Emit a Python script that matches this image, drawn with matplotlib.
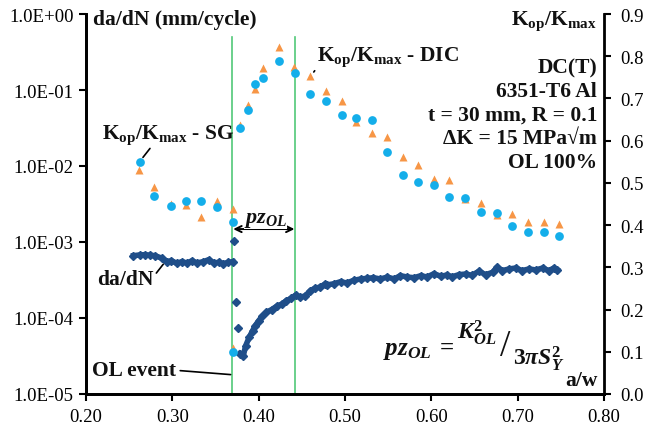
import matplotlib
matplotlib.use("Agg")
import matplotlib.pyplot as plt
from matplotlib.ticker import FixedLocator, FuncFormatter

plt.rcParams['font.family'] = ['Liberation Serif', 'DejaVu Serif']
plt.rcParams['mathtext.fontset'] = 'custom'
plt.rcParams['mathtext.rm'] = 'Liberation Serif'
plt.rcParams['mathtext.bf'] = 'Liberation Serif:bold'
plt.rcParams['mathtext.it'] = 'Liberation Serif:italic'
plt.rcParams['mathtext.bfit'] = 'Liberation Serif:italic:bold'

# ---------------- data ----------------
# Kop/Kmax from strain gauge (SG)
aw_sg = [0.262, 0.279, 0.298, 0.316, 0.333, 0.352, 0.370, 0.370, 0.378, 0.388,
         0.396, 0.405, 0.424, 0.442, 0.460, 0.478, 0.496, 0.513, 0.531, 0.549,
         0.567, 0.585, 0.603, 0.621, 0.639, 0.658, 0.676, 0.693, 0.712, 0.730, 0.748]
kop_sg = [0.550, 0.470, 0.445, 0.457, 0.456, 0.442, 0.407, 0.100, 0.629, 0.673,
          0.735, 0.748, 0.788, 0.760, 0.711, 0.695, 0.661, 0.654, 0.650, 0.574,
          0.519, 0.503, 0.496, 0.467, 0.464, 0.430, 0.429, 0.397, 0.384, 0.384, 0.374]

# Kop/Kmax from DIC
aw_dic = [0.261, 0.279, 0.298, 0.316, 0.333, 0.352, 0.370, 0.370, 0.378, 0.388,
          0.396, 0.405, 0.423, 0.441, 0.460, 0.478, 0.496, 0.513, 0.531, 0.549,
          0.567, 0.585, 0.603, 0.621, 0.639, 0.658, 0.676, 0.693, 0.712, 0.730, 0.748]
kop_dic = [0.530, 0.491, 0.451, 0.447, 0.419, 0.456, 0.437, 0.110, 0.637, 0.685,
           0.722, 0.773, 0.821, 0.775, 0.752, 0.718, 0.694, 0.645, 0.619, 0.608,
           0.561, 0.543, 0.509, 0.507, 0.462, 0.453, 0.424, 0.427, 0.408, 0.408, 0.403]

# da/dN before the overload
aw_pre = [0.255, 0.262, 0.268, 0.274, 0.280, 0.288, 0.294, 0.299, 0.305, 0.311,
          0.317, 0.323, 0.328, 0.336, 0.342, 0.348, 0.354, 0.359, 0.365, 0.370]
dadn_pre = [6.61e-4, 6.75e-4, 6.81e-4, 6.70e-4, 6.61e-4, 6.11e-4, 5.51e-4, 5.68e-4,
            5.25e-4, 5.51e-4, 5.30e-4, 5.68e-4, 5.30e-4, 5.51e-4, 5.85e-4, 5.30e-4,
            5.41e-4, 5.18e-4, 5.41e-4, 5.51e-4]

# da/dN transient points right after the overload
aw_jump = [0.3717, 0.3732, 0.3755]
dadn_jump = [1.04e-3, 1.64e-4, 7.3e-5]

# da/dN after the overload
aw_post = [0.378, 0.382, 0.385, 0.389, 0.393, 0.396, 0.400, 0.404, 0.409, 0.415,
           0.421, 0.427, 0.432, 0.438, 0.443, 0.448, 0.454, 0.460, 0.465, 0.471,
           0.477, 0.479, 0.487, 0.495, 0.502, 0.510, 0.518, 0.526, 0.533, 0.541,
           0.549, 0.557, 0.564, 0.572, 0.580, 0.588, 0.595, 0.603, 0.611, 0.618,
           0.624, 0.632, 0.640, 0.647, 0.655, 0.663, 0.671, 0.676, 0.682, 0.690,
           0.698, 0.705, 0.713, 0.721, 0.729, 0.736, 0.742, 0.746]
dadn_post = [3.4e-5, 3.13e-5, 4.33e-5, 5.57e-5, 6.81e-5, 7.92e-5, 9.2e-5, 1.05e-4,
             1.19e-4, 1.29e-4, 1.43e-4, 1.53e-4, 1.69e-4, 1.82e-4, 2.01e-4, 1.87e-4,
             1.96e-4, 2.29e-4, 2.46e-4, 2.55e-4, 2.80e-4, 2.72e-4, 2.82e-4, 3.01e-4,
             2.89e-4, 3.13e-4, 3.26e-4, 3.33e-4, 3.39e-4, 3.26e-4, 3.46e-4, 3.26e-4,
             3.61e-4, 3.46e-4, 3.39e-4, 3.61e-4, 3.46e-4, 3.83e-4, 3.54e-4, 3.68e-4,
             3.49e-4, 3.72e-4, 3.79e-4, 3.65e-4, 4.11e-4, 3.72e-4, 3.99e-4, 4.65e-4,
             4.20e-4, 4.42e-4, 4.55e-4, 4.20e-4, 4.42e-4, 4.29e-4, 4.55e-4, 4.20e-4,
             4.55e-4, 4.29e-4]

ol_aw = 0.3695      # overload event
pz_end_aw = 0.4425  # end of overload plastic zone

x_ticks = [0.20, 0.30, 0.40, 0.50, 0.60, 0.70, 0.80]
y_left_ticks = [1e-5, 1e-4, 1e-3, 1e-2, 1e-1, 1e0]
y_right_ticks = [0.0, 0.1, 0.2, 0.3, 0.4, 0.5, 0.6, 0.7, 0.8, 0.9]

# ---------------- styling ----------------
navy = '#1f4e89'
sky = '#14aeea'
orange = '#f79646'
green = '#52c878'
ink = '#111111'

W, H = 646, 427
fig = plt.figure(figsize=(W / 100, H / 100), dpi=100)
ax = fig.add_axes([86 / W, 1 - 395 / H, (604 - 86) / W, (395 - 15) / H])
ax.set_yscale('log')
ax.set_xlim(0.2, 0.8)
ax.set_ylim(1e-5, 1)
ax2 = ax.twinx()
ax2.set_ylim(0, 0.9)

for a in (ax, ax2):
    a.spines['top'].set_visible(False)
    for s in a.spines.values():
        s.set_linewidth(2)
        s.set_color('black')
ax.spines['right'].set_visible(False)

ax.xaxis.set_major_locator(FixedLocator(x_ticks))
ax.xaxis.set_major_formatter(FuncFormatter(lambda v, p: f"{v:.2f}"))
ax.yaxis.set_major_locator(FixedLocator(y_left_ticks))
ax.yaxis.set_minor_locator(FixedLocator([]))
ax.yaxis.set_major_formatter(FuncFormatter(lambda v, p: f"{v:.1E}"))
ax2.yaxis.set_major_locator(FixedLocator(y_right_ticks))
ax2.yaxis.set_major_formatter(FuncFormatter(lambda v, p: f"{v:.1f}"))

ax.tick_params(axis='both', which='major', direction='out', length=5, width=1.5,
               labelsize=13.5, pad=4)
ax.tick_params(axis='x', pad=5)
ax2.tick_params(axis='y', direction='out', length=5, width=1.5, labelsize=13.5, pad=7)

# green vertical lines
for xv in (ol_aw, pz_end_aw):
    ax.axvline(xv, ymin=0, ymax=0.94, color=green, lw=1.2, zorder=1)

# da/dN
ax.plot(aw_pre, dadn_pre, color=navy, lw=4, marker='D', ms=4.5, zorder=3)
ax.plot(aw_jump, dadn_jump, ls='none', color=navy, marker='D', ms=4.5, zorder=3)
ax.plot(aw_post, dadn_post, color=navy, lw=4, marker='D', ms=4.5, zorder=3)

# Kop/Kmax
ax2.plot(aw_dic, kop_dic, ls='none', marker='^', ms=6, color=orange, mec='none', zorder=3)
ax2.plot(aw_sg, kop_sg, ls='none', marker='o', ms=6.3, color=sky, mec='none', zorder=4)

bold = dict(fontweight='bold', fontsize=15.5, color=ink)

# axis titles
fig.text(93 / W, 1 - 20 / H, 'da/dN (mm/cycle)', ha='left', va='center', **bold)
fig.text(597 / W, 1 - 21 / H, r'K$_{\mathbf{op}}$/K$_{\mathbf{max}}$', ha='right', va='center', **bold)
fig.text(598 / W, 1 - 381 / H, 'a/w', ha='right', va='center', **bold)

info = ['DC(T)', '6351-T6 Al', 't = 30 mm, R = 0.1', '\u0394K = 15 MPa\u221am', 'OL 100%']
for i, line in enumerate(info):
    fig.text(597 / W, 1 - (68 + 23.7 * i) / H, line, ha='right', va='center', **bold)

# labels with leader lines
lead = dict(arrowstyle='-', color='black', lw=1.2, shrinkA=0, shrinkB=4)
ax2.annotate(r'K$_{\mathbf{op}}$/K$_{\mathbf{max}}$ - SG', xy=(aw_sg[0], kop_sg[0]),
             xytext=(0.295, 0.616), ha='center', va='center',
             arrowprops=dict(relpos=(0.38, 0.0), **lead), **bold)
ax2.annotate(r'K$_{\mathbf{op}}$/K$_{\mathbf{max}}$ - DIC', xy=(aw_dic[14], kop_dic[14]),
             xytext=(0.467, 0.800), ha='left', va='center',
             arrowprops=dict(relpos=(0.02, 0.15), **lead), **bold)
ax.annotate('da/dN', xy=(0.2895, 5.1e-4), xytext=(0.2128, 3.3e-4), ha='left', va='center',
            arrowprops=dict(relpos=(1.0, 0.6), arrowstyle='-', color='black', lw=1.2,
                            shrinkA=0, shrinkB=0), **bold)
ax.annotate('OL event', xy=(ol_aw - 0.002, 1.8e-5), xytext=(0.207, 2.05e-5),
            ha='left', va='center',
            arrowprops=dict(relpos=(1.0, 0.5), arrowstyle='-', color='black', lw=1.2,
                            shrinkA=1, shrinkB=0), **bold)

# plastic zone arrow
ax.annotate('', xy=(ol_aw + 0.001, 1.48e-3), xytext=(pz_end_aw - 0.001, 1.48e-3),
            arrowprops=dict(arrowstyle='<->,head_length=0.45,head_width=0.22',
                            color='black', lw=1.4, shrinkA=0, shrinkB=0))
ax.text(0.4080, 2.0e-3, r'$\mathbfit{pz}_{\mathbfit{OL}}$', ha='center', va='center',
        fontsize=16, color=ink,
        bbox=dict(facecolor='white', edgecolor='none', pad=0.0))

# formula
fig.text(455 / W, 1 - 351 / H, r'$\mathbfit{pz}_{\mathbfit{OL}}\;\mathbf{=}\;$', ha='right',
         va='center', fontsize=18, color=ink)
fig.text(457 / W, 1 - 333 / H, r'$\mathbfit{K}^{\mathbf{2}}_{\mathbfit{OL}}$', ha='left',
         va='center', fontsize=17, color=ink)
fig.text(505 / W, 1 - 347 / H, '/', ha='center', va='center', fontsize=27,
         color=ink)
fig.text(513 / W, 1 - 359 / H, r'$\mathbf{3}\mathbfit{\pi S}^{\mathbf{2}}_{\mathbfit{Y}}$',
         ha='left', va='center', fontsize=17, color=ink)

fig.savefig('out.png', dpi=100)
